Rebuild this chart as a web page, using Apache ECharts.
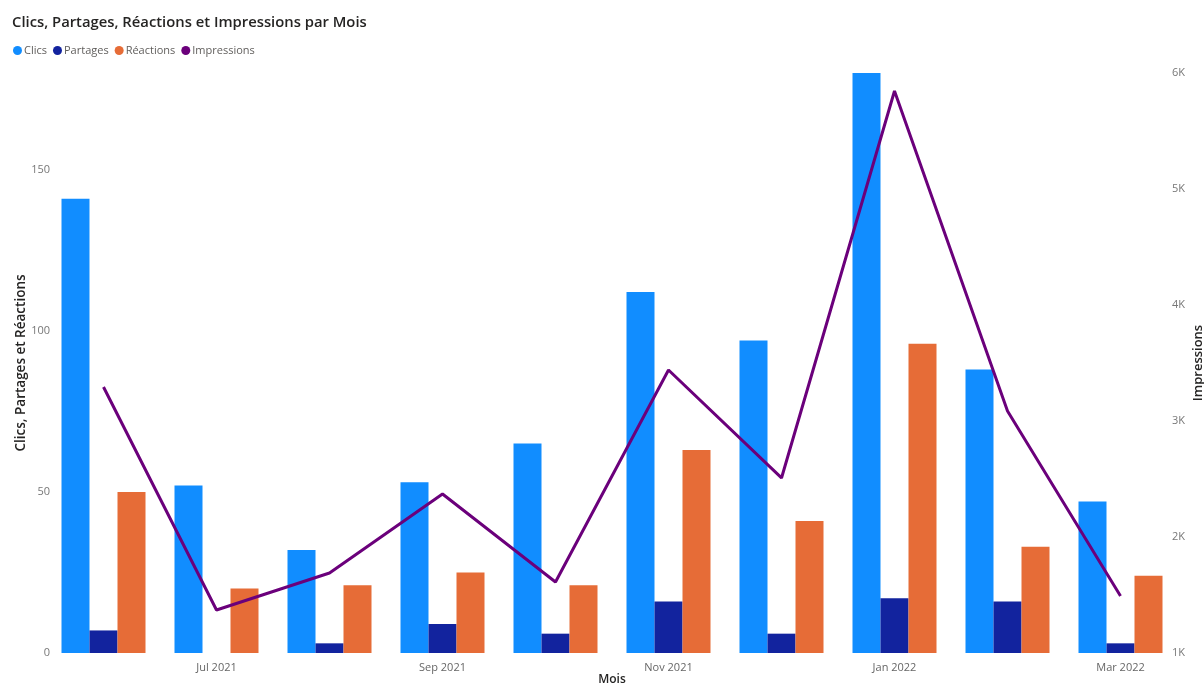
<!DOCTYPE html>
<html>
<head>
<meta charset="utf-8">
<script src="https://cdn.jsdelivr.net/npm/echarts@6/dist/echarts.min.js"></script>
<style>html,body{margin:0;padding:0;background:#fff;}#c{width:1204px;height:686px;}</style>
</head>
<body>
<div id="c"></div>
<script>
const months = ["Jun 2021","Jul 2021","Aug 2021","Sep 2021","Oct 2021","Nov 2021","Dec 2021","Jan 2022","Feb 2022","Mar 2022"];
const clics = [141, 52, 32, 53, 65, 112, 97, 180, 88, 47];
const partages = [7, 0, 3, 9, 6, 16, 6, 17, 16, 3];
const reactions = [50, 20, 21, 25, 21, 63, 41, 96, 33, 24];
const impressions = [3293, 1371, 1690, 2371, 1612, 3440, 2509, 5845, 3086, 1491];
const leftTicks = [0, 50, 100, 150];
const rightTicks = ["1K","2K","3K","4K","5K","6K"];

const FONT = "'Open Sans', 'Noto Sans', sans-serif";
const chart = echarts.init(document.getElementById('c'), null, {renderer: 'canvas'});
chart.setOption({
  animation: false,
  textStyle: {fontFamily: FONT},
  title: {
    text: "Clics, Partages, Réactions et Impressions par Mois",
    left: 7, top: 10,
    textStyle: {fontFamily: FONT, fontSize: 14.8, fontWeight: 600, color: '#252423'}
  },
  legend: {
    left: 8, top: 40,
    icon: 'circle', itemWidth: 9, itemHeight: 9, itemGap: 6,
    textStyle: {fontFamily: FONT, fontSize: 11, color: '#605E5C', padding: [0,0,0,-3]},
    data: ['Clics','Partages','Réactions','Impressions']
  },
  grid: {left: 47, right: 27, top: 73, bottom: 33, containLabel: false, outerBoundsMode: 'none'},
  xAxis: {
    type: 'category',
    data: months,
    name: 'Mois', nameLocation: 'middle', nameGap: 21, nameMoveOverlap: false,
    nameTextStyle: {fontFamily: FONT, fontSize: 12, fontWeight: 600, color: '#252423'},
    axisLine: {show: false}, axisTick: {show: false},
    axisLabel: {
      interval: function (i) { return i % 2 === 1; },
      fontSize: 11, color: '#666', margin: 9
    }
  },
  yAxis: [
    {
      type: 'value', min: 0, max: 180, interval: 50,
      name: 'Clics, Partages et Réactions', nameLocation: 'middle', nameGap: 19, nameRotate: 90, nameMoveOverlap: false,
      nameTextStyle: {fontFamily: FONT, fontSize: 13.5, fontWeight: 600, color: '#252423'},
      splitLine: {show: false}, axisLine: {show: false}, axisTick: {show: false},
      axisLabel: {
        fontSize: 11, color: '#777', margin: -3, showMaxLabel: false,
        formatter: function (v) { return leftTicks.indexOf(v) >= 0 ? String(v) : ''; }
      }
    },
    {
      type: 'value', min: 1000, max: 6000, interval: 1000, position: 'right',
      name: 'Impressions', nameLocation: 'middle', nameGap: 14.5, nameRotate: 90, nameMoveOverlap: false,
      nameTextStyle: {fontFamily: FONT, fontSize: 13, fontWeight: 600, color: '#252423'},
      splitLine: {show: false}, axisLine: {show: false}, axisTick: {show: false},
      axisLabel: {
        fontSize: 11, color: '#777', margin: -5,
        formatter: function (v) { return rightTicks[Math.round(v / 1000) - 1] || ''; }
      }
    }
  ],
  series: [
    {name: 'Clics', type: 'bar', data: clics, barWidth: 28, barGap: '0%', itemStyle: {color: '#118DFF'}},
    {name: 'Partages', type: 'bar', data: partages, barWidth: 28, barGap: '0%', itemStyle: {color: '#12239E'}},
    {name: 'Réactions', type: 'bar', data: reactions, barWidth: 28, barGap: '0%', itemStyle: {color: '#E66C37'}},
    {name: 'Impressions', type: 'line', yAxisIndex: 1, data: impressions,
     symbol: 'none', lineStyle: {color: '#6B007B', width: 3}, itemStyle: {color: '#6B007B'}, z: 5}
  ]
});
</script>
</body>
</html>
